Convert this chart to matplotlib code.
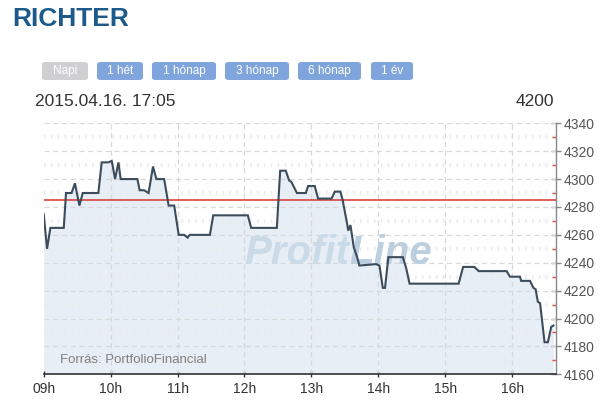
import matplotlib
matplotlib.use("Agg")
import matplotlib.pyplot as plt
from matplotlib.patches import FancyBboxPatch
import numpy as np

plt.rcParams['font.family'] = ['Liberation Sans', 'DejaVu Sans']

# ---------------- data ----------------
title = "RICHTER"
timestamp = "2015.04.16. 17:05"
last_price_label = "4200"
source_label = "Forrás: PortfolioFinancial"
watermark_a = "Profit"
watermark_b = "Line"
buttons = ["Napi", "1 hét", "1 hónap", "3 hónap", "6 hónap", "1 év"]
prev_close = 4285

times = ["09:00", "09:03", "09:06", "09:18", "09:20", "09:25", "09:28", "09:32",
         "09:35", "09:49", "09:52", "09:58", "10:01", "10:04", "10:07", "10:09",
         "10:24", "10:26", "10:30", "10:34", "10:38", "10:41", "10:48", "10:52",
         "10:57", "11:01", "11:06", "11:09", "11:11", "11:29", "11:32", "12:03",
         "12:06", "12:29", "12:32", "12:37", "12:40", "12:42", "12:47", "12:55",
         "12:57", "13:03", "13:06", "13:18", "13:21", "13:26", "13:28", "13:32",
         "13:33", "13:35", "13:38", "13:41", "13:43", "13:58", "14:01", "14:04",
         "14:06", "14:09", "14:22", "14:25", "14:28", "15:12", "15:16", "15:26",
         "15:30", "15:55", "15:58", "16:07", "16:08", "16:16", "16:19", "16:21",
         "16:23", "16:25", "16:29", "16:32", "16:35", "16:37"]
prices = [4275, 4250, 4265, 4265, 4290, 4290, 4297, 4281,
          4290, 4290, 4312, 4312, 4313, 4300, 4312, 4300,
          4300, 4292, 4292, 4290, 4309, 4300, 4300, 4281,
          4281, 4260, 4260, 4258, 4260, 4260, 4274, 4274,
          4265, 4265, 4306, 4306, 4299, 4298, 4290, 4290,
          4295, 4295, 4286, 4286, 4291, 4291, 4285, 4268,
          4263, 4267, 4251, 4244, 4238, 4239, 4238, 4222,
          4222, 4244, 4244, 4236, 4225, 4225, 4237, 4237,
          4234, 4234, 4230, 4230, 4227, 4227, 4222, 4221,
          4212, 4211, 4183, 4183, 4194, 4195]

hour_ticks = [9, 10, 11, 12, 13, 14, 15, 16]
hour_labels = ["09h", "10h", "11h", "12h", "13h", "14h", "15h", "16h"]
y_ticks = [4160, 4180, 4200, 4220, 4240, 4260, 4280, 4300, 4320, 4340]

t = np.array([int(s[:2]) + int(s[3:]) / 60.0 for s in times])
p = np.array(prices, dtype=float)

# ---------------- figure ----------------
W, H = 615, 416
fig = plt.figure(figsize=(W / 100, H / 100), dpi=100)
fig.patch.set_facecolor("white")

def fx(px):
    return px / W

def fy(py):
    return 1 - py / H

ax = fig.add_axes([fx(43.7), fy(374.3), fx(555.7) - fx(43.7), fy(123.3) - fy(374.3)])
ax.set_facecolor("white")
ymin, ymax = 4160, 4340
ax.set_xlim(9.0, 16.65)
ax.set_ylim(ymin, ymax)

# fill under curve
ax.fill_between(t, p, ymin, color="#e7eef6", zorder=1, linewidth=0)

# minor texture rows
for yv in np.arange(4170, 4340, 20):
    ax.axhline(yv, color="#ebebeb", lw=3.0, dashes=(0.35, 1.3), zorder=1.5)

# grid
for yv in y_ticks[1:]:
    ax.axhline(yv, color="#d8d8d8", lw=0.9, dashes=(4, 3), zorder=2)
for xv in hour_ticks[1:]:
    ax.axvline(xv, color="#d8d8d8", lw=0.9, dashes=(4, 3), zorder=2)

# watermark
ax.text(13.56, 4247, watermark_a, fontsize=29, fontweight="bold", style="italic",
        color="#cbdae7", ha="right", va="center", zorder=2.5)
ax.text(13.56, 4247, watermark_b, fontsize=29, fontweight="bold", style="italic",
        color="#bccfdf", ha="left", va="center", zorder=2.5)

# previous close line
ax.axhline(prev_close, color="#d8342b", lw=1.1, zorder=3)

# price line
ax.plot(t, p, color="#3b4c5c", lw=1.5, zorder=4, solid_joinstyle="miter")

# source text
ax.text(9.25, 4170.5, source_label, fontsize=9.5, color="#808080",
        ha="left", va="center", zorder=5)

# axes styling
for s in ["left", "top"]:
    ax.spines[s].set_visible(False)
ax.spines["right"].set_color("#888888")
ax.spines["right"].set_linewidth(1.0)
ax.spines["bottom"].set_color("#333333")
ax.spines["bottom"].set_linewidth(1.2)

ax.yaxis.tick_right()
ax.set_yticks(y_ticks)
ax.set_yticklabels([str(v) for v in y_ticks])
ax.set_yticks(np.arange(4170, 4340, 20), minor=True)
ax.tick_params(axis="y", which="major", direction="inout", length=7, width=1,
               color="#888888", labelcolor="#555555", labelsize=10, pad=2)
ax.tick_params(axis="y", which="minor", direction="in", length=3, width=1,
               color="#d9534f")
ax.set_xticks(hour_ticks)
ax.set_xticklabels(hour_labels)
ax.tick_params(axis="x", which="major", direction="inout", length=5, width=1,
               color="#333333", labelcolor="#333333", labelsize=10, pad=3)
ax.tick_params(left=False)

# ---------------- header ----------------
fig.text(fx(12), fy(19.5), title, fontsize=19, fontweight="bold", color="#1b5a8b",
         ha="left", va="center")

btn_x = [(42, 88), (97, 143), (152, 216), (225, 289), (298, 361), (371, 413)]
for i, (lab, (x0, x1)) in enumerate(zip(buttons, btn_x)):
    face = "#d0d0d2" if i == 0 else "#7fa5dc"
    y0, y1 = 62, 80
    box = FancyBboxPatch((fx(x0), fy(y1)), fx(x1) - fx(x0), fy(y0) - fy(y1),
                         boxstyle="round,pad=0,rounding_size=0.006",
                         transform=fig.transFigure, facecolor=face,
                         edgecolor="none", zorder=1)
    fig.patches.append(box)
    fig.text(fx((x0 + x1) / 2), fy(71), lab, fontsize=8.5, color="white",
             ha="center", va="center")

fig.text(fx(35), fy(101), timestamp, fontsize=12.5, color="#333333",
         ha="left", va="center")
fig.text(fx(554), fy(101), last_price_label, fontsize=12.5, color="#333333",
         ha="right", va="center")

fig.savefig("out.png", dpi=100, facecolor="white")
